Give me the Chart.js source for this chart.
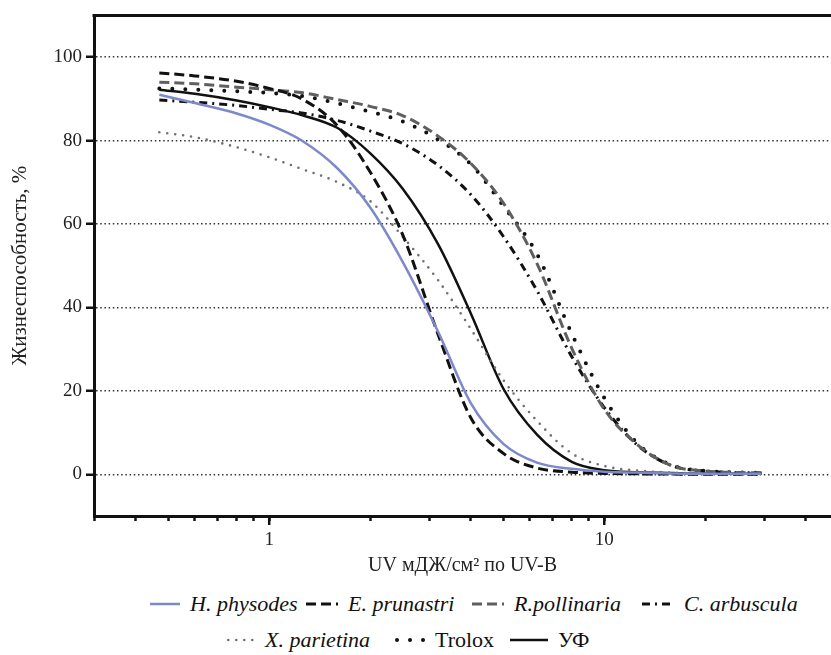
<!DOCTYPE html>
<html>
<head>
<meta charset="utf-8">
<script src="https://cdn.jsdelivr.net/npm/chart.js@4.4.0/dist/chart.umd.min.js"></script>
<style>
  html, body { margin: 0; padding: 0; background: #fff; width: 831px; height: 655px; overflow: hidden; }
  #wrap { position: relative; width: 831px; height: 655px; }
  #grafico { position: absolute; left: 0; top: 0; }
  .leg { position: absolute; font-family: "Liberation Serif", "DejaVu Serif", "Times New Roman", Times, Tinos, "Nimbus Roman", FreeSerif, "Noto Serif", serif; font-size: 22px; color: #111; white-space: nowrap; line-height: 1; }
  .amostra { position: absolute; }
</style>
</head>
<body>
<div id="wrap">
  <canvas id="grafico" width="831" height="585"></canvas>
  <div id="legenda"></div>
</div>
<script>
// doses UV (mJ/cm2) onde as curvas foram lidas
const doses = [0.47, 0.6, 0.8, 1, 1.25, 1.6, 2, 2.5, 3.2, 4, 5, 6.3, 8, 10, 12.6, 16, 20, 29.5];

const nomes = ['H. physodes', 'E. prunastri', 'R.pollinaria', 'C. arbuscula', 'X. parietina', 'Trolox', 'УФ'];

// viabilidade, %
const hPhysodes   = [91, 89, 86.5, 83.8, 80, 73.3, 64, 51, 34, 17, 7.3, 2.8, 1.3, 0.6, 0.4, 0.2, 0.1, 0.1];
const ePrunastri  = [96.2, 95.5, 94.2, 92.5, 90, 83.5, 72.5, 57.5, 33.3, 13.5, 5, 1.5, 0.5, 0.2, 0.1, 0.05, 0, 0];
const rPollinaria = [94, 93.6, 92.8, 92.2, 91.5, 89.8, 88.2, 86, 81, 74.5, 65, 50.5, 30.2, 15.6, 7, 2, 0.8, 0.3];
const cArbuscula  = [89.7, 89.2, 88.4, 87.5, 86.6, 84.8, 82.3, 79.3, 74, 67, 57, 44, 28.2, 16, 6.9, 2, 0.8, 0.3];
const xParietina  = [82, 80.8, 78.4, 76, 73.2, 70, 65.5, 57, 46.4, 34.8, 22.6, 12.8, 5, 2, 0.9, 0.4, 0.2, 0.1];
const trolox      = [92.5, 92.2, 91.8, 91.4, 90.7, 88.9, 86.9, 84.6, 80.2, 74.3, 64.3, 52.8, 33.7, 18.3, 7.3, 2.1, 0.8, 0.3];
const uf          = [92.2, 91.2, 89.6, 88, 86.1, 83, 77, 68.5, 55, 38.5, 20.5, 9.5, 3, 1, 0.5, 0.3, 0.1, 0.1];

const ticksX = [0.3, 0.4, 0.5, 0.6, 0.7, 0.8, 0.9, 1, 2, 3, 4, 5, 6, 7, 8, 9, 10, 20, 30, 40];
const ticksY = [0, 20, 40, 60, 80, 100];

const series = [hPhysodes, ePrunastri, rPollinaria, cArbuscula, xParietina, trolox, uf];

// estilo de cada curva
const estilos = [
    { cor: '#7d89c8', largura: 2.5, traco: [], ponta: 'butt', italico: true },
    { cor: '#111111', largura: 3, traco: [10, 5], ponta: 'butt', italico: true },
    { cor: '#5f5f5f', largura: 3, traco: [10, 5], ponta: 'butt', italico: true },
    { cor: '#111111', largura: 3, traco: [8, 5, 2, 5], ponta: 'butt', italico: true },
    { cor: '#707070', largura: 2.6, traco: [0, 8], ponta: 'round', italico: true },
    { cor: '#111111', largura: 4, traco: [0, 13], ponta: 'round', italico: false },
    { cor: '#111111', largura: 2.5, traco: [], ponta: 'butt', italico: false }
];

const fonte = '"Liberation Serif", "DejaVu Serif", "Times New Roman", Times, Tinos, "Nimbus Roman", FreeSerif, "Noto Serif", serif';

const datasets = series.map(function (valores, i) {
    return {
        label: nomes[i],
        data: doses.map((d, j) => ({ x: d, y: valores[j] })),
        borderColor: estilos[i].cor,
        borderWidth: estilos[i].largura,
        borderDash: estilos[i].traco,
        borderCapStyle: estilos[i].ponta,
        pointRadius: 0,
        fill: false,
        cubicInterpolationMode: 'monotone'
    };
});

// linha de cima do quadro e ticks maiores em 1 e 10
const moldura = {
    id: 'moldura',
    afterDraw(chart) {
        const { ctx, chartArea, scales } = chart;
        ctx.save();
        ctx.strokeStyle = '#111';
        ctx.lineWidth = 3;
        ctx.beginPath();
        ctx.moveTo(chartArea.left - 1.5, chartArea.top);
        ctx.lineTo(chartArea.right, chartArea.top);
        ctx.stroke();
        ctx.lineWidth = 2.5;
        [1, 10].forEach(function (v) {
            const px = scales.x.getPixelForValue(v);
            ctx.beginPath();
            ctx.moveTo(px, chartArea.bottom);
            ctx.lineTo(px, chartArea.bottom + 9);
            ctx.stroke();
        });
        ctx.restore();
    }
};

const config = {
    type: 'line',
    data: { datasets: datasets },
    options: {
        responsive: false,
        animation: false,
        layout: { padding: { top: 13, left: 0, right: 0, bottom: 0 } },
        plugins: { legend: { display: false }, tooltip: { enabled: false } },
        scales: {
            x: {
                type: 'logarithmic',
                min: 0.3,
                max: 47.5,
                afterBuildTicks: function (s) { s.ticks = ticksX.map(v => ({ value: v })); },
                afterFit: function (s) { s.height = 69; },
                ticks: {
                    autoSkip: false,
                    maxRotation: 0,
                    padding: 8,
                    color: '#222',
                    font: { family: fonte, size: 19 },
                    callback: function (v) { return (v === 1 || v === 10) ? String(v) : ''; }
                },
                grid: { drawOnChartArea: false, drawTicks: true, tickLength: 5, tickWidth: 2.5, tickColor: '#111' },
                border: { color: '#111', width: 3 },
                title: {
                    display: true,
                    text: 'UV мДЖ/см² по UV-B',
                    color: '#222',
                    font: { family: fonte, size: 20 },
                    padding: { top: 0, bottom: 7 }
                }
            },
            y: {
                min: -10,
                max: 110,
                afterBuildTicks: function (s) { s.ticks = ticksY.map(v => ({ value: v })); },
                afterFit: function (s) { s.width = 94; },
                ticks: { padding: 4, color: '#222', font: { family: fonte, size: 19 } },
                grid: { color: '#333', lineWidth: 1.5, tickLength: 8, tickWidth: 2.5, tickColor: '#111' },
                border: { color: '#111', width: 3, dash: [1.5, 2.7] },
                title: {
                    display: true,
                    text: 'Жизнеспособность, %',
                    color: '#222',
                    font: { family: fonte, size: 21 },
                    padding: { top: 8, bottom: 0 }
                }
            }
        }
    },
    plugins: [moldura]
};

let myChart = new Chart(document.getElementById('grafico'), config);

// legenda em html: [inicio da amostra, inicio do texto, centro y]
const legendaPos = [
    [150, 190, 604], [306, 348, 604], [472, 514, 604], [642, 684, 604],
    [227, 265, 640], [395, 435, 640], [510, 558, 640]
];

let caixa = document.getElementById('legenda');
let html = '';
for (let i = 0; i < nomes.length; i++) {
    const p = legendaPos[i];
    const e = estilos[i];
    const w = p[1] - p[0] - 10;
    const x1 = e.ponta === 'round' ? e.largura / 2 : 0;
    html += `<svg class="amostra" style="left:${p[0]}px;top:${p[2] - 5}px" width="${w}" height="10">` +
        `<line x1="${x1}" y1="5" x2="${w}" y2="5" stroke="${e.cor}" stroke-width="${e.largura}" ` +
        `stroke-dasharray="${e.traco.length ? e.traco.join(' ') : 'none'}" stroke-linecap="${e.ponta}"/></svg>`;
    html += `<span class="leg" style="left:${p[1]}px;top:${p[2] - 11}px;font-style:${e.italico ? 'italic' : 'normal'}">${nomes[i]}</span>`;
}
caixa.innerHTML = html;
</script>
</body>
</html>
